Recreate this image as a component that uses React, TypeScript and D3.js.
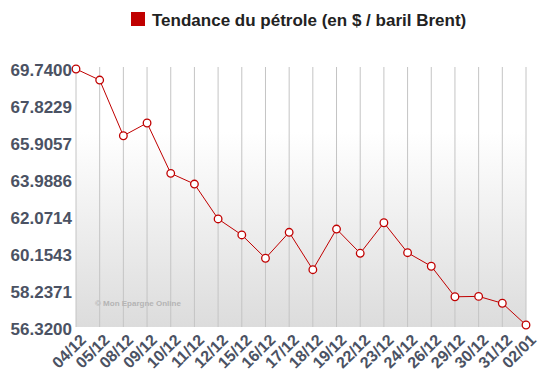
import React from "react";
import * as d3 from "d3";

const categories = ["04/12","05/12","08/12","09/12","10/12","11/12","12/12","15/12","16/12","17/12","18/12","19/12","22/12","23/12","24/12","26/12","29/12","30/12","31/12","02/01"];
const prices = [69.74,69.16,66.24,66.91,64.27,63.71,61.88,61.04,59.82,61.18,59.22,61.35,60.08,61.68,60.11,59.40,57.80,57.82,57.46,56.32];
const yTicks = [69.74,67.8229,65.9057,63.9886,62.0714,60.1543,58.2371,56.32];
const legendLabel = "Tendance du pétrole (en $ / baril Brent)";
const watermark = "© Mon Epargne Online";

export default function App() {
  const W = 544, H = 384;
  const plotL = 76, plotR = 526, plotT = 67, plotB = 327;
  const x = d3.scalePoint<string>().domain(categories).range([plotL, plotR]);
  const y = d3.scaleLinear().domain([56.32, 69.74]).range([325, 69]);
  const line = d3.line<number>().x((_, i) => x(categories[i]) as number).y(d => y(d));
  const red = "#c00000";
  const labelColor = "#4b5263";
  const font = "'Liberation Sans', Arial, sans-serif";
  return (
    <svg width={W} height={H} style={{ position: "absolute", left: 0, top: 0, background: "#fff" }}>
      <defs>
        <linearGradient id="bg" x1="0" y1="0" x2="0" y2="1">
          <stop offset="0%" stopColor="#ffffff" />
          <stop offset="25%" stopColor="#ffffff" />
          <stop offset="100%" stopColor="#dcdcdc" />
        </linearGradient>
      </defs>
      <rect x={plotL} y={plotT} width={plotR - plotL} height={plotB - plotT} fill="url(#bg)" />
      {categories.map(c => (
        <line key={c} x1={x(c)} x2={x(c)} y1={plotT} y2={plotB} stroke="#c4c4c4" strokeWidth={1} />
      ))}
      <text x={95} y={306} fontFamily={font} fontSize={8} fontWeight="bold" fill="#b4b4b4">{watermark}</text>
      <path d={line(prices) || ""} fill="none" stroke={red} strokeWidth={1} />
      {prices.map((p, i) => (
        <circle key={i} cx={x(categories[i])} cy={y(p)} r={3.8} fill="#fff" stroke={red} strokeWidth={1.3} />
      ))}
      {yTicks.map((t, i) => (
        <text key={t} x={72} y={y(t) + 1 + i * 0.4} dy="0.35em" textAnchor="end" fontFamily={font} fontSize={17} fontWeight="bold" fill={labelColor}>
          {t.toFixed(4)}
        </text>
      ))}
      {categories.map(c => (
        <text key={c} transform={`translate(${(x(c) as number) + 7},${337}) rotate(-45)`} textAnchor="end" dy="0.35em" fontFamily={font} fontSize={16} fontWeight="bold" fill={labelColor}>
          {c}
        </text>
      ))}
      <rect x={131} y={12} width={14} height={14} fill={red} />
      <text x={152} y={25.5} fontFamily={font} fontSize={17} fontWeight="bold" fill="#222">{legendLabel}</text>
    </svg>
  );
}
